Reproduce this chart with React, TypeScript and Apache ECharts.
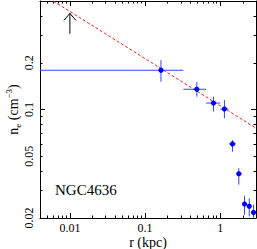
import React, { useEffect, useRef } from "react";
import * as echarts from "echarts";

// Data (r in kpc, n_e in cm^-3)
const rMid = [0.163, 0.489, 0.815, 1.14, 1.46, 1.77, 2.11, 2.44, 2.78];
const rLo = [0.001, 0.324, 0.65, 1.0, 1.32, 1.67, 2.05, 2.37, 2.7];
const rHi = [0.324, 0.65, 1.0, 1.29, 1.62, 1.95, 2.17, 2.51, 2.86];
const ne = [0.179, 0.135, 0.11, 0.1006, 0.06, 0.0385, 0.0246, 0.0238, 0.0217];
const neLo = [0.151, 0.121, 0.097, 0.088, 0.0535, 0.0328, 0.021, 0.0205, 0.019];
const neHi = [0.208, 0.15, 0.121, 0.115, 0.0634, 0.0419, 0.0278, 0.0268, 0.0244];

// Power-law fit line end points
const fitR = [0.006, 3];
const fitNe = [0.5, 0.0758];

// Lower limit arrow
const limitR = [0.01];
const limitFrom = [0.308];
const limitTo = [0.416];

// Axes
const xMin = 0.004;
const xMax = 3;
const yMin = 0.02;
const yMax = 0.5;
const xMajorTicks = [0.01, 0.1, 1];
const xMinorTicks = [
  0.005, 0.006, 0.007, 0.008, 0.009, 0.02, 0.03, 0.04, 0.05, 0.06, 0.07, 0.08,
  0.09, 0.2, 0.3, 0.4, 0.5, 0.6, 0.7, 0.8, 0.9, 2, 3,
];
const xTickLabels = [0.01, 0.1, 1];
const yMajorTicks = [0.1];
const yMinorTicks = [0.02, 0.03, 0.04, 0.05, 0.06, 0.07, 0.08, 0.09, 0.2, 0.3, 0.4, 0.5];
const yTickLabels = [0.02, 0.05, 0.1, 0.2];

const FONT = "Liberation Serif";

function xAxisDef(position: string, ticks: number[], len: number, showLine: boolean, labels?: number[]) {
  return {
    type: "log",
    logBase: 10,
    position,
    min: xMin,
    max: xMax,
    axisLine: { show: showLine, onZero: false, lineStyle: { color: "#000", width: 1 } },
    axisTick: { show: true, inside: true, length: len, customValues: ticks, lineStyle: { color: "#000", width: 1 } },
    axisLabel: labels
      ? {
          show: true,
          customValues: labels,
          margin: 4,
          color: "#000",
          fontFamily: FONT,
          fontSize: 12,
          formatter: (v: number) => String(+(+v).toPrecision(3)),
        }
      : { show: false },
    splitLine: { show: false },
    minorTick: { show: false },
  };
}

function yAxisDef(position: string, ticks: number[], len: number, showLine: boolean, labels?: number[]) {
  return {
    type: "log",
    logBase: 10,
    position,
    min: yMin,
    max: yMax,
    axisLine: { show: showLine, onZero: false, lineStyle: { color: "#000", width: 1 } },
    axisTick: { show: true, inside: true, length: len, customValues: ticks, lineStyle: { color: "#000", width: 1 } },
    axisLabel: labels
      ? {
          show: true,
          customValues: labels,
          rotate: 90,
          margin: 5,
          color: "#000",
          fontFamily: FONT,
          fontSize: 12,
          formatter: (v: number) => String(+(+v).toPrecision(3)),
        }
      : { show: false },
    splitLine: { show: false },
    minorTick: { show: false },
  };
}

export default function App() {
  const ref = useRef<HTMLDivElement>(null);

  useEffect(() => {
    document.body.style.margin = "0";
    if (!ref.current) return;
    const chart = echarts.init(ref.current, undefined, { renderer: "svg" });

    const errData = rMid.map((r, i) => [r, ne[i], rLo[i], rHi[i], neLo[i], neHi[i]]);
    const fitData = fitR.map((r, i) => [r, fitNe[i]]);
    const limitData = limitR.map((r, i) => [r, limitFrom[i], limitTo[i]]);

    const xMain: any = xAxisDef("bottom", xMajorTicks, 5, true, xTickLabels);
    xMain.name = "r (kpc)";
    xMain.nameLocation = "middle";
    xMain.nameGap = 17;
    xMain.nameMoveOverlap = false;
    xMain.nameTextStyle = { color: "#000", fontFamily: FONT, fontSize: 14, lineHeight: 14 };

    const yMain: any = yAxisDef("left", yMajorTicks, 5, true, yTickLabels);
    yMain.name = "{b|n}{sub|e}{b| (cm}{sup|−3}{b|)}";
    yMain.nameLocation = "middle";
    yMain.nameGap = 18;
    yMain.nameMoveOverlap = false;
    yMain.nameTextStyle = {
      color: "#000",
      fontFamily: FONT,
      fontSize: 14,
      rich: {
        b: { fontFamily: FONT, fontSize: 14, color: "#000", lineHeight: 18 },
        sub: { fontFamily: FONT, fontSize: 9, color: "#000", lineHeight: 9, verticalAlign: "bottom" },
        sup: { fontFamily: FONT, fontSize: 9, color: "#000", lineHeight: 9, verticalAlign: "top" },
      },
    };

    chart.setOption({
      animation: false,
      backgroundColor: "#fff",
      grid: { left: 40, right: 1, top: 1, bottom: 31, containLabel: false, outerBoundsMode: "none" },
      xAxis: [
        xMain,
        xAxisDef("bottom", xMinorTicks, 2.5, false),
        xAxisDef("top", xMajorTicks, 5, true),
        xAxisDef("top", xMinorTicks, 2.5, false),
      ],
      yAxis: [
        yMain,
        yAxisDef("left", yMinorTicks, 2.5, false),
        yAxisDef("right", yMajorTicks, 5, true),
        yAxisDef("right", yMinorTicks, 2.5, false),
      ],
      graphic: [
        {
          type: "text",
          left: 55,
          top: 182,
          style: { text: "NGC4636", fontFamily: FONT, fontSize: 15, fill: "#000" },
        },
      ],
      series: [
        {
          type: "line",
          xAxisIndex: 0,
          yAxisIndex: 0,
          data: fitData,
          showSymbol: false,
          symbol: "none",
          clip: true,
          lineStyle: { color: "#ff2020", width: 1, type: [3, 2] },
          z: 2,
        },
        {
          type: "custom",
          xAxisIndex: 0,
          yAxisIndex: 0,
          clip: true,
          data: errData,
          encode: { x: [0, 2, 3], y: [1, 4, 5] },
          renderItem: (params: any, api: any) => {
            const x = api.value(0);
            const y = api.value(1);
            const c = api.coord([x, y]);
            const l = api.coord([api.value(2), y]);
            const h = api.coord([api.value(3), y]);
            const b = api.coord([x, api.value(4)]);
            const t = api.coord([x, api.value(5)]);
            const stroke = "#3344ff";
            return {
              type: "group",
              children: [
                { type: "line", shape: { x1: l[0], y1: l[1], x2: h[0], y2: h[1] }, style: { stroke, lineWidth: 1 } },
                { type: "line", shape: { x1: b[0], y1: b[1], x2: t[0], y2: t[1] }, style: { stroke, lineWidth: 1 } },
                { type: "circle", shape: { cx: c[0], cy: c[1], r: 2.6 }, style: { fill: "#0000ff" } },
              ],
            };
          },
          z: 3,
        },
        {
          type: "custom",
          xAxisIndex: 0,
          yAxisIndex: 0,
          data: limitData,
          encode: { x: 0, y: [1, 2] },
          renderItem: (params: any, api: any) => {
            const x = api.value(0);
            const p0 = api.coord([x, api.value(1)]);
            const p1 = api.coord([x, api.value(2)]);
            return {
              type: "group",
              children: [
                { type: "line", shape: { x1: p0[0], y1: p0[1], x2: p1[0], y2: p1[1] }, style: { stroke: "#000", lineWidth: 1 } },
                {
                  type: "polyline",
                  shape: {
                    points: [
                      [p1[0] - 6, p1[1] + 7],
                      [p1[0], p1[1]],
                      [p1[0] + 6, p1[1] + 7],
                    ],
                  },
                  style: { stroke: "#000", lineWidth: 1, fill: "none" },
                },
              ],
            };
          },
          z: 3,
        },
      ],
    });

    return () => chart.dispose();
  }, []);

  return <div ref={ref} style={{ width: 257, height: 249 }} />;
}
